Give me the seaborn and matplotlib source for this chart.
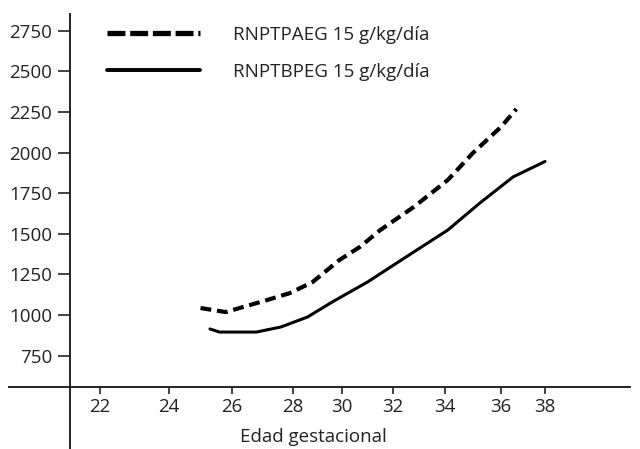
import numpy as np
import pandas as pd
import matplotlib
matplotlib.use("Agg")
import matplotlib.pyplot as plt
from matplotlib.lines import Line2D
import seaborn as sns

# ---- data ----
age_a = [25.0, 25.8, 27.15, 27.9, 28.8, 29.9, 30.7, 31.5, 32.8, 34.1, 35.0, 36.0, 36.7]
wt_a = [1043, 1018, 1092, 1135, 1203, 1339, 1419, 1523, 1665, 1831, 1998, 2158, 2268]
age_b = [25.3, 25.6, 26.8, 27.6, 28.6, 29.6, 31.0, 32.5, 34.1, 35.25, 36.55, 38.0]
wt_b = [914, 895, 895, 926, 988, 1080, 1203, 1357, 1523, 1690, 1850, 1945]
label_a = "RNPTPAEG 15 g/kg/día"
label_b = "RNPTBPEG 15 g/kg/día"
x_ticks = [22, 24, 26, 28, 30, 32, 34, 36, 38]
y_ticks = [750, 1000, 1250, 1500, 1750, 2000, 2250, 2500, 2750]
x_label = "Edad gestacional"

# uneven tick spacing of the original axis (relative positions)
tick_pos = np.array([100, 169, 232, 293, 342, 393, 445, 501, 545], dtype=float)
tick_age = np.array(x_ticks, dtype=float)


def fwd(x):
    x = np.asarray(x, dtype=float)
    y = np.interp(x, tick_age, tick_pos)
    lo = x < tick_age[0]
    hi = x > tick_age[-1]
    s0 = (tick_pos[1] - tick_pos[0]) / (tick_age[1] - tick_age[0])
    s1 = (tick_pos[-1] - tick_pos[-2]) / (tick_age[-1] - tick_age[-2])
    y = np.where(lo, tick_pos[0] + (x - tick_age[0]) * s0, y)
    y = np.where(hi, tick_pos[-1] + (x - tick_age[-1]) * s1, y)
    return y


def inv(p):
    p = np.asarray(p, dtype=float)
    y = np.interp(p, tick_pos, tick_age)
    lo = p < tick_pos[0]
    hi = p > tick_pos[-1]
    s0 = (tick_pos[1] - tick_pos[0]) / (tick_age[1] - tick_age[0])
    s1 = (tick_pos[-1] - tick_pos[-2]) / (tick_age[-1] - tick_age[-2])
    y = np.where(lo, tick_age[0] + (p - tick_pos[0]) / s0, y)
    y = np.where(hi, tick_age[-1] + (p - tick_pos[-1]) / s1, y)
    return y


sns.set_theme(style="white")
plt.rcParams["font.family"] = ["Open Sans", "DejaVu Sans"]
FS = 13.5

fig = plt.figure(figsize=(6.4, 4.49), dpi=100)
ax = fig.add_axes([9 / 640, 0.0, (630 - 9) / 640, (449 - 14) / 449])
ax.set_xscale("function", functions=(fwd, inv))

df_a = pd.DataFrame({"age": age_a, "wt": wt_a})
df_b = pd.DataFrame({"age": age_b, "wt": wt_b})
sns.lineplot(data=df_a, x="age", y="wt", ax=ax, color="black", lw=3.0,
             linestyle=(0, (2.6, 1.4)), sort=False, estimator=None)
sns.lineplot(data=df_b, x="age", y="wt", ax=ax, color="black", lw=2.2,
             sort=False, estimator=None)

ax.set_xlim(float(inv(9.0)), float(inv(630.0)))
ax.set_ylim(175, 2853)

for s in ["top", "right"]:
    ax.spines[s].set_visible(False)
ax.spines["left"].set_position(("data", float(inv(70.0))))
ax.spines["bottom"].set_position(("data", 557))
for s in ["left", "bottom"]:
    ax.spines[s].set_color("#222222")
    ax.spines[s].set_linewidth(1.4)

ax.set_xticks(x_ticks)
ax.set_yticks(y_ticks)
ax.set_xticklabels([str(t) for t in x_ticks])
ax.set_yticklabels([str(t) for t in y_ticks])
ax.tick_params(axis="y", direction="out", length=9, width=1.2, pad=4,
               labelsize=FS, colors="#222222", left=True)
ax.tick_params(axis="x", direction="out", length=5, width=1.2, pad=3,
               labelsize=FS, colors="#222222", bottom=True)
ax.set_xlabel(x_label, fontsize=FS, color="#222222")
ax.set_ylabel("")
ax.xaxis.set_label_coords((313 - 9) / 621, (449 - 437) / 435, transform=ax.transAxes)
ax.xaxis.label.set_verticalalignment("center")

handles = [Line2D([], [], color="black", lw=3.8, linestyle=(0, (3.4, 0.9))),
           Line2D([], [], color="black", lw=2.8)]
leg = ax.legend(handles, [label_a, label_b], loc="upper left",
                bbox_to_anchor=(107 / 640, 1 - 26 / 449), bbox_transform=fig.transFigure,
                frameon=False, fontsize=FS, handlelength=4.96, handletextpad=1.76,
                labelspacing=1.0, borderpad=0, borderaxespad=0)
for t in leg.get_texts():
    t.set_color("#222222")

fig.savefig("out.png", dpi=100)
